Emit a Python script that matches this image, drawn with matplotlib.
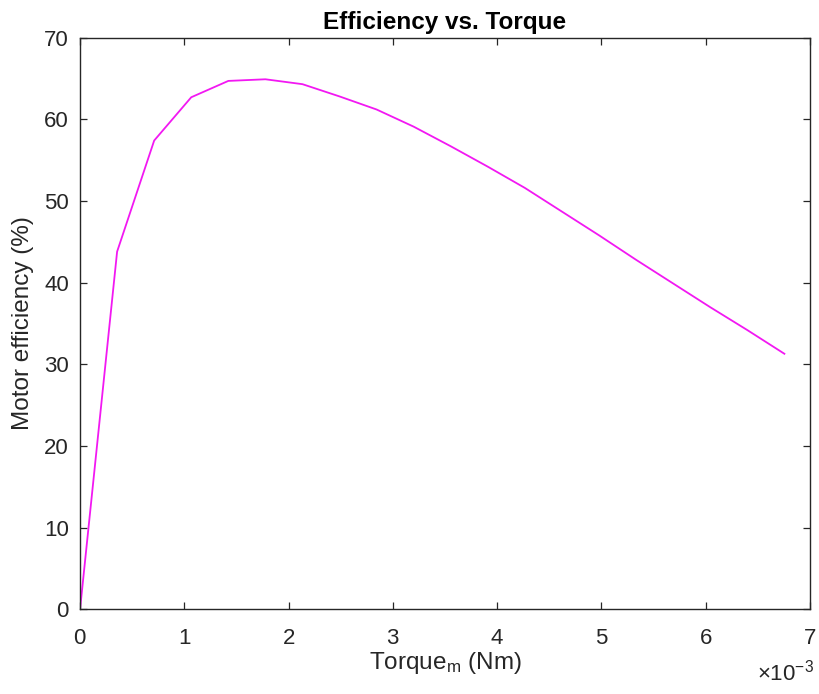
import matplotlib
matplotlib.use("Agg")
import matplotlib.pyplot as plt
import numpy as np
from matplotlib.ticker import ScalarFormatter

# torque (Nm) and motor efficiency (%)
torque = np.array([0.0, 0.3555, 0.711, 1.0665, 1.422, 1.7775, 2.133, 2.4885,
                   2.844, 3.1995, 3.555, 3.9105, 4.266, 4.6215, 4.977, 5.3325,
                   5.688, 6.0435, 6.399, 6.7545]) * 1e-3
efficiency = [0.0, 43.8, 57.4, 62.7, 64.7, 64.9, 64.3, 62.8, 61.2, 59.1,
              56.7, 54.2, 51.6, 48.7, 45.8, 42.8, 39.9, 37.0, 34.2, 31.3]

xticks = [0, 1e-3, 2e-3, 3e-3, 4e-3, 5e-3, 6e-3, 7e-3]
yticks = [0, 10, 20, 30, 40, 50, 60, 70]

INK = "#262626"
plt.rcParams["font.family"] = ["Liberation Sans", "DejaVu Sans"]
plt.rcParams["mathtext.fontset"] = "custom"
plt.rcParams["mathtext.rm"] = "Liberation Sans"
plt.rcParams["mathtext.it"] = "Liberation Sans:italic"
plt.rcParams["mathtext.bf"] = "Liberation Sans:bold"

fig = plt.figure(figsize=(8.2, 6.94), dpi=100)
ax = fig.add_axes([0.0976, 0.1218, 0.8902, 0.824])

ax.plot(torque, efficiency, color="#f218f2", lw=1.3)

ax.set_xlim(0, 7e-3)
ax.set_ylim(0, 70)
ax.set_xticks(xticks)
ax.set_yticks(yticks)
fmt = ScalarFormatter(useMathText=True)
fmt.set_powerlimits((-2, 2))
ax.xaxis.set_major_formatter(fmt)
ax.xaxis.get_offset_text().set_visible(False)
# MATLAB-style exponent label under the right end of the x axis
ax.text(1.005, -0.124, r"×10$^{\mathrm{-3}}$", transform=ax.transAxes,
        ha="right", va="baseline", fontsize=16, color=INK)

for s in ax.spines.values():
  s.set_color(INK); s.set_linewidth(1.0)
ax.tick_params(direction="in", length=5, width=0.9, color=INK,
               labelcolor=INK, labelsize=16, top=True, right=True)
ax.tick_params(axis="x", pad=13)
ax.tick_params(axis="y", pad=8)

ax.set_xlabel(r"Torque$_{\mathrm{m}}$ (Nm)", fontsize=17.5, color=INK, labelpad=1)
ax.set_ylabel("Motor efficiency (%)", fontsize=17.5, color=INK, labelpad=7)
ax.set_title("Efficiency vs. Torque", fontsize=17.5, fontweight="bold", color="black", pad=6)

fig.savefig("out.png", dpi=100, facecolor="white")
